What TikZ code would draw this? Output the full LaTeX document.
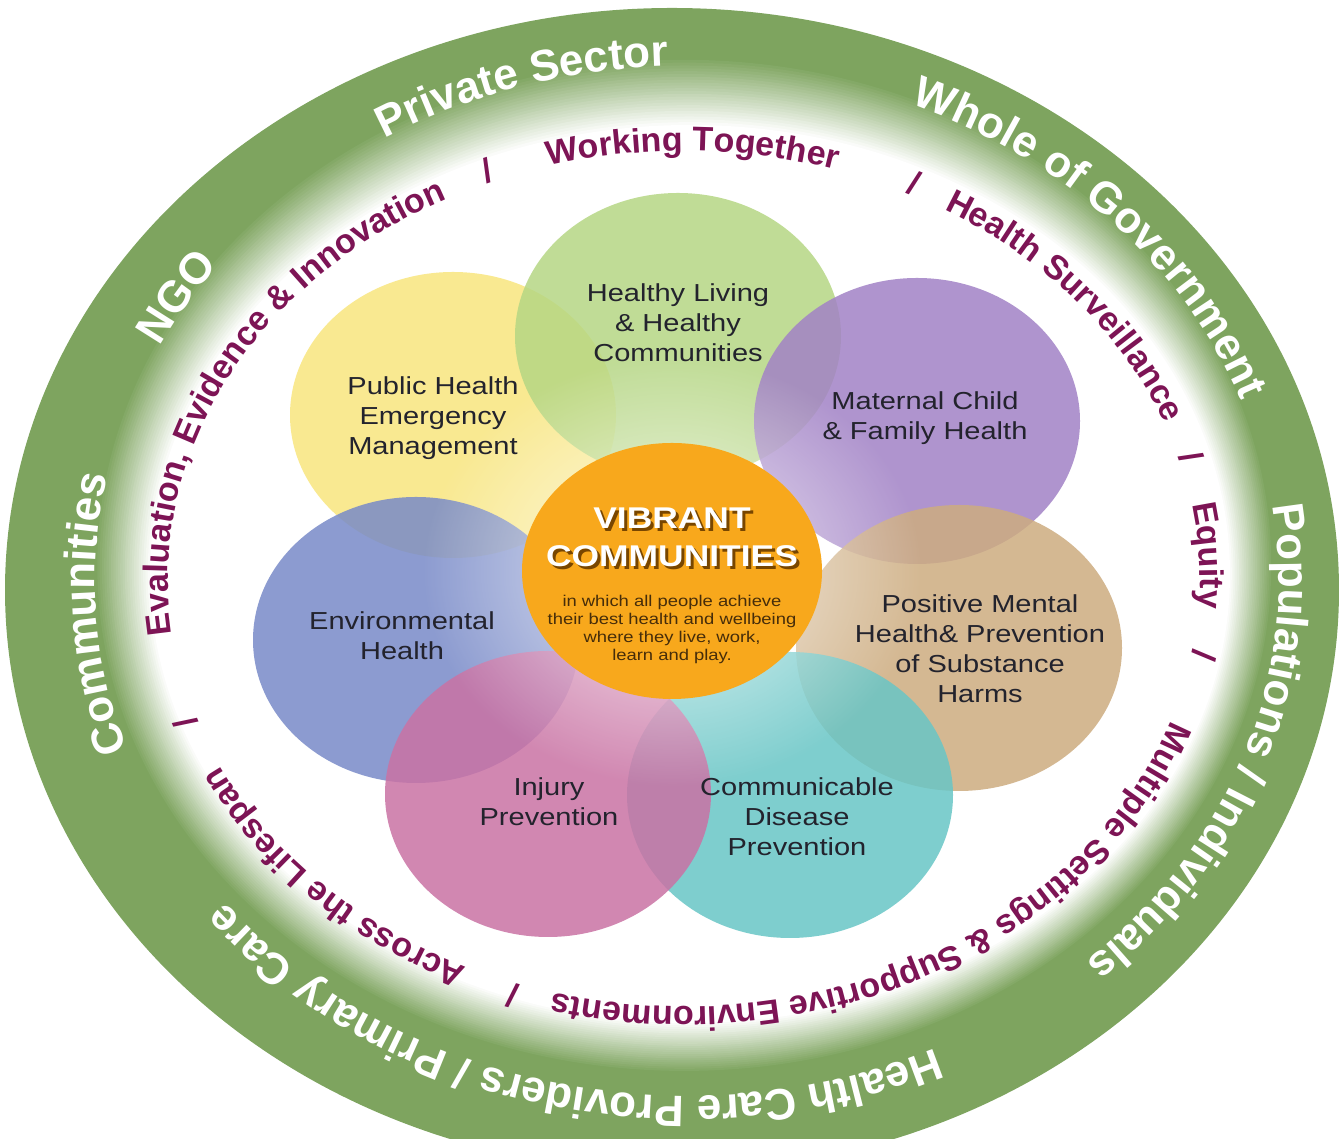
\documentclass[tikz,border=0pt]{standalone}
\usepackage{fontspec}
\setmainfont{Liberation Sans}
\newfontfamily\petalfont{Liberation Sans}[FakeStretch=1.18]
\usetikzlibrary{shapes.geometric,decorations.text,fadings}

\definecolor{ringgreen}{RGB}{126,164,95}
\definecolor{inkpurple}{RGB}{125,20,85}
\definecolor{petalink}{RGB}{35,35,45}
\definecolor{hlgreen}{RGB}{182,215,132}
\definecolor{phyellow}{RGB}{249,230,126}
\definecolor{mcpurple}{RGB}{162,130,198}
\definecolor{pmbrown}{RGB}{205,172,128}
\definecolor{cdteal}{RGB}{104,198,198}
\definecolor{ippink}{RGB}{202,114,164}
\definecolor{ehblue}{RGB}{120,138,200}
\definecolor{vcorange}{RGB}{248,168,28}
\definecolor{vcshadow}{RGB}{120,70,0}
\definecolor{vcink}{RGB}{70,45,10}

\tikzfading[name=glowfade, inner color=transparent!0, outer color=transparent!100]

\newcommand\outerfont{\bfseries\fontsize{22}{22}\selectfont}
\newcommand\innerfont{\bfseries\fontsize{17}{17}\selectfont}

\tikzset{
  petal/.style={ellipse, minimum width=163pt, minimum height=143pt, inner sep=0pt, fill opacity=0.85},
  petaltext/.style={align=center, text=petalink, font=\petalfont\fontsize{12.3}{15}\selectfont},
  vctitle/.style={align=center, font=\petalfont\bfseries\fontsize{15}{19}\selectfont},
  outerlabel/.style={decorate, decoration={text along path, text align=center, text color=white, text={|\outerfont|#1}}},
  innerlabel/.style={decorate, decoration={text along path, text align=center, text color=inkpurple, text={|\innerfont|#1}}},
}

\begin{document}
\begin{tikzpicture}[x=0.5pt, y=0.5pt]
\useasboundingbox (0,0) rectangle (1339,1139);
\clip (0,0) rectangle (1339,1139);

% green ring, fading to white inside
\fill[ringgreen] (672,549) ellipse [x radius=667, y radius=582];
\foreach \i in {0,...,24}{
  \pgfmathtruncatemacro\greenpct{100-100*\i/24}
  \pgfmathsetmacro\fadex{684+6*\i/24}
  \pgfmathsetmacro\fadey{574-9*\i/24}
  \pgfmathsetmacro\faderx{589-49*\i/24}
  \pgfmathsetmacro\fadery{508-59*\i/24}
  \fill[ringgreen!\greenpct!white] (\fadex,\fadey) ellipse [x radius=\faderx, y radius=\fadery];
}

% petals
\node[petal, fill=phyellow] (phem) at (453,724) {};
\node[petal, fill=hlgreen] (hl) at (678,803) {};
\node[petal, fill=mcpurple] (mcfh) at (917,718) {};
\node[petal, fill=pmbrown] (pmh) at (959,491) {};
\node[petal, fill=cdteal] (cdp) at (790,344) {};
\node[petal, fill=ehblue] (eh) at (416,499) {};
\node[petal, fill=ippink] (ip) at (548,345) {};

\fill[white, fill opacity=0.8, path fading=glowfade] (672,568) ellipse [x radius=250, y radius=215];

\node[petaltext] (hltext) at (678,816) {Healthy Living\\\& Healthy\\Communities};
\node[petaltext] (phemtext) at (433,721) {Public Health\\Emergency\\Management};
\node[petaltext] (mcfhtext) at (925,721) {Maternal Child\\\& Family Health};
\node[petaltext] (ehtext) at (402,503) {Environmental\\Health};
\node[petaltext] (pmhtext) at (980,490) {Positive Mental\\Health\& Prevention\\of Substance\\Harms};
\node[petaltext] (iptext) at (549,337) {Injury\\Prevention};
\node[petaltext] (cdptext) at (797,322) {Communicable\\Disease\\Prevention};

% centre
\node[ellipse, minimum width=150pt, minimum height=128pt, inner sep=0pt, fill=vcorange] (vc) at (672,568) {};
\node[vctitle, text=vcshadow] (vcback) at (675,599) {VIBRANT\\COMMUNITIES};
\node[vctitle, text=white] (vctitle) at (672,602) {VIBRANT\\COMMUNITIES};
\node[align=center, text=vcink, font=\petalfont\fontsize{7.8}{9}\selectfont] (vcsub) at (672,510)
  {in which all people achieve\\their best health and wellbeing\\where they live, work,\\learn and play.};

% outer ring
\begin{scope}[shift={(687,558)}]
\path[outerlabel={Private Sector}] (147:592 and 515) arc[start angle=147, end angle=67, x radius=592, y radius=515];
\path[outerlabel={Whole of Government}] (85:592 and 515) arc[start angle=85, end angle=1, x radius=592, y radius=515];
\path[outerlabel={NGO}] (168:592 and 515) arc[start angle=168, end angle=128, x radius=592, y radius=515];
\path[outerlabel={Communities}] (214:592 and 515) arc[start angle=214, end angle=153, x radius=592, y radius=515];
\path[outerlabel={Populations / Individuals}] (24:592 and 515) arc[start angle=24, end angle=-62, x radius=592, y radius=515];
\path[outerlabel={Health Care Providers / Primary Care}] (-44:592 and 515) arc[start angle=-44, end angle=-164, x radius=592, y radius=515];
\end{scope}

% inner ring
\begin{scope}[shift={(684,560)}]
\path[innerlabel={Working Together}] (129:516 and 428) arc[start angle=129, end angle=49, x radius=516, y radius=428];
\path[innerlabel={Health Surveillance}] (78:516 and 428) arc[start angle=78, end angle=0, x radius=516, y radius=428];
\path[innerlabel={Equity}] (23:516 and 428) arc[start angle=23, end angle=-17, x radius=516, y radius=428];
\path[innerlabel={Multiple Settings {\&} Supportive Environments}] (2:516 and 428) arc[start angle=2, end angle=-123, x radius=516, y radius=428];
\path[innerlabel={Across the Lifespan}] (-97:516 and 428) arc[start angle=-97, end angle=-175, x radius=516, y radius=428];
\path[innerlabel={Evaluation, Evidence {\&} Innovation}] (212:516 and 428) arc[start angle=212, end angle=96, x radius=516, y radius=428];

\path[innerlabel={/}] (117:516 and 428) arc[start angle=117, end angle=107, x radius=516, y radius=428];
\path[innerlabel={/}] (69:516 and 428) arc[start angle=69, end angle=59, x radius=516, y radius=428];
\path[innerlabel={/}] (21:516 and 428) arc[start angle=21, end angle=11, x radius=516, y radius=428];
\path[innerlabel={/}] (-5:516 and 428) arc[start angle=-5, end angle=-15, x radius=516, y radius=428];
\path[innerlabel={/}] (-104:516 and 428) arc[start angle=-104, end angle=-114, x radius=516, y radius=428];
\path[innerlabel={/}] (-156:516 and 428) arc[start angle=-156, end angle=-166, x radius=516, y radius=428];
\end{scope}
\end{tikzpicture}
\end{document}
